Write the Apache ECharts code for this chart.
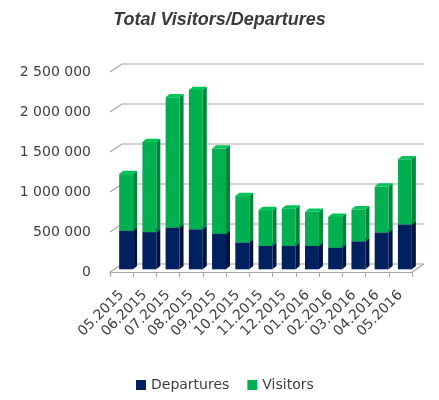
<!DOCTYPE html>
<html>
<head>
<meta charset="utf-8">
<script src="https://cdn.jsdelivr.net/npm/echarts@6/dist/echarts.min.js"></script>
<style>html,body{margin:0;padding:0;background:#fff}#c{width:439px;height:400px}</style>
</head>
<body>
<div id="c"></div>
<script>
var categories = ['05.2015','06.2015','07.2015','08.2015','09.2015','10.2015','11.2015','12.2015','01.2016','02.2016','03.2016','04.2016','05.2016'];
var departures = [480000, 465000, 520000, 500000, 445000, 335000, 292000, 292000, 292000, 272000, 350000, 460000, 560000];
var visitors   = [710000, 1125000, 1630000, 1740000, 1065000, 580000, 448000, 466000, 426000, 383000, 400000, 575000, 815000];
var yTicks = [0, 500000, 1000000, 1500000, 2000000, 2500000];

var OX = 4.5, OY = -2.7, DX = 4, DY = 3.3, WX = 12, WY = 8;
var FONT = 'DejaVu Sans';

function bar3d(api, base, top, front, side, topc, drawTop) {
  var bw = api.size([1, 0])[0] * 0.6;
  var p0 = api.coord([api.value(0), base]);
  var p1 = api.coord([api.value(0), top]);
  var x0 = p0[0] - bw / 2 + OX, x1 = x0 + bw;
  var yb = p0[1] + OY, yt = p1[1] + OY;
  var ch = [
    {type: 'polygon', shape: {points: [[x1, yb], [x1 + DX, yb - DY], [x1 + DX, yt - DY], [x1, yt]]}, style: {fill: side}},
    {type: 'rect', shape: {x: x0, y: yt, width: bw, height: yb - yt}, style: {fill: front}}
  ];
  if (drawTop) ch.push({type: 'polygon', shape: {points: [[x0, yt], [x0 + DX, yt - DY], [x1 + DX, yt - DY], [x1, yt]]}, style: {fill: topc}});
  return {type: 'group', children: ch};
}

var chart = echarts.init(document.getElementById('c'), null, {renderer: 'canvas'});
chart.setOption({
  animation: false,
  title: {
    text: 'Total Visitors/Departures', left: 'center', top: 11, padding: 0,
    textStyle: {fontFamily: 'Liberation Sans', fontSize: 18, fontWeight: 'bold', fontStyle: 'italic', color: '#3a3a3a'}
  },
  legend: {
    data: ['Departures', 'Visitors'], bottom: 8, left: 136, padding: 0, icon: 'rect',
    itemWidth: 10, itemHeight: 10, itemGap: 18,
    textStyle: {fontFamily: FONT, fontSize: 14, color: '#404040'}
  },
  grid: {left: 110, right: 27, top: 72, bottom: 128},
  xAxis: {
    type: 'category', data: categories,
    axisLine: {lineStyle: {color: '#a6a6a6', width: 1.2}},
    axisTick: {show: true, length: 5, lineStyle: {color: '#a6a6a6'}},
    axisLabel: {rotate: 45, interval: 0, margin: 21, padding: [11, 0, 0, 0], fontFamily: FONT, fontSize: 14, color: '#404040'},
    splitLine: {show: false}
  },
  yAxis: {
    type: 'value', min: 0, max: 2500000, interval: 500000,
    axisLine: {show: false}, axisTick: {show: false}, splitLine: {show: false},
    axisLabel: {margin: 19, fontFamily: FONT, fontSize: 14, color: '#404040',
      formatter: function (v) { return String(v).replace(/\B(?=(\d{3})+(?!\d))/g, ' '); }}
  },
  series: [
    {
      name: 'walls', type: 'custom', silent: true, z: 1,
      data: yTicks.map(function (v) { return [0, v]; }),
      encode: {x: 0, y: 1},
      renderItem: function (params, api) {
        var cs = params.coordSys;
        var y = api.coord([0, api.value(1)])[1];
        var L = cs.x, R = cs.x + cs.width;
        var ch = [{type: 'polyline', shape: {points: [[L, y], [L + WX, y - WY], [R + WX, y - WY]]},
          style: {stroke: '#a6a6a6', lineWidth: 1.2, fill: null}}];
        if (api.value(1) === 0) ch.push({type: 'line', shape: {x1: R, y1: y, x2: R + WX, y2: y - WY},
          style: {stroke: '#a6a6a6', lineWidth: 1.2}});
        return {type: 'group', children: ch};
      }
    },
    {
      name: 'Departures', type: 'custom', z: 2,
      itemStyle: {color: '#002060'},
      data: departures.map(function (d, i) { return [i, 0, d]; }),
      encode: {x: 0, y: [1, 2]},
      renderItem: function (params, api) {
        return bar3d(api, api.value(1), api.value(2), '#002060', '#00143f', '#0a2a70', true);
      }
    },
    {
      name: 'Visitors', type: 'custom', z: 3,
      itemStyle: {color: '#00B050'},
      data: visitors.map(function (v, i) { return [i, departures[i], departures[i] + v]; }),
      encode: {x: 0, y: [1, 2]},
      renderItem: function (params, api) {
        return bar3d(api, api.value(1), api.value(2), '#00B050', '#00853b', '#00c458', true);
      }
    }
  ]
});
</script>
</body>
</html>
